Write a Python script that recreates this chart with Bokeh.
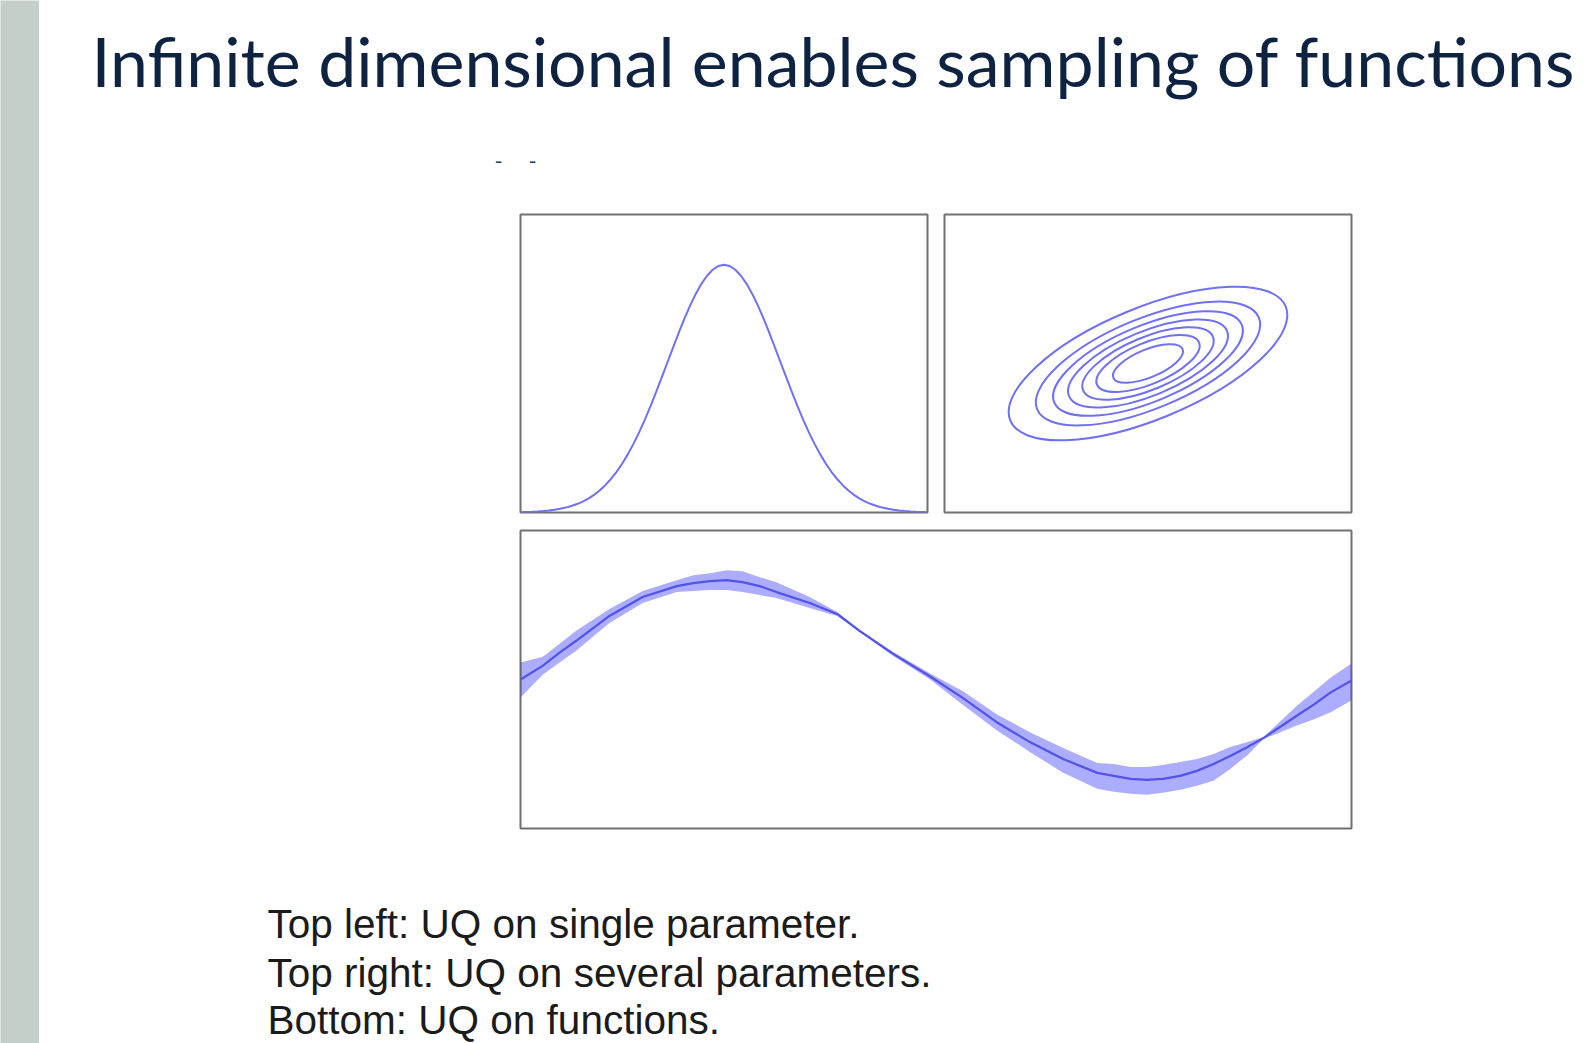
from bokeh.plotting import figure
from bokeh.layouts import row, column
from bokeh.models import Spacer, Label, Range1d
from bokeh.embed import file_html
from bokeh.resources import INLINE

# ---------------- data ----------------
title_text = "Infinite dimensional enables sampling of functions"
caption_lines = [
    "Top left: UQ on single parameter.",
    "Top right: UQ on several parameters.",
    "Bottom: UQ on functions.",
]

# top left: single-parameter density
pdf_x = [-3.6, -3.5, -3.4, -3.3, -3.2, -3.1, -3.0, -2.9, -2.8, -2.7, -2.6, -2.5,
         -2.4, -2.3, -2.2, -2.1, -2.0, -1.9, -1.8, -1.7, -1.6, -1.5, -1.4, -1.3,
         -1.2, -1.1, -1.0, -0.9, -0.8, -0.7, -0.6, -0.5, -0.4, -0.3, -0.2, -0.1,
         0.0, 0.1, 0.2, 0.3, 0.4, 0.5, 0.6, 0.7, 0.8, 0.9, 1.0, 1.1, 1.2, 1.3,
         1.4, 1.5, 1.6, 1.7, 1.8, 1.9, 2.0, 2.1, 2.2, 2.3, 2.4, 2.5, 2.6, 2.7,
         2.8, 2.9, 3.0, 3.1, 3.2, 3.3, 3.4, 3.5, 3.6]
pdf_y = [0.0006, 0.0009, 0.0012, 0.0017, 0.0024, 0.0033, 0.0044, 0.0060, 0.0079,
         0.0104, 0.0136, 0.0175, 0.0224, 0.0283, 0.0355, 0.0440, 0.0540, 0.0656,
         0.0790, 0.0940, 0.1109, 0.1295, 0.1497, 0.1714, 0.1942, 0.2179, 0.2420,
         0.2661, 0.2897, 0.3123, 0.3332, 0.3521, 0.3683, 0.3814, 0.3910, 0.3970,
         0.3989, 0.3970, 0.3910, 0.3814, 0.3683, 0.3521, 0.3332, 0.3123, 0.2897,
         0.2661, 0.2420, 0.2179, 0.1942, 0.1714, 0.1497, 0.1295, 0.1109, 0.0940,
         0.0790, 0.0656, 0.0540, 0.0440, 0.0355, 0.0283, 0.0224, 0.0175, 0.0136,
         0.0104, 0.0079, 0.0060, 0.0044, 0.0033, 0.0024, 0.0017, 0.0012, 0.0009,
         0.0006]

# top right: contour ellipses of a correlated two-parameter density
ell_cx = [0.0] * 7
ell_cy = [0.0] * 7
ell_w = [5.96, 4.80, 4.06, 3.42, 2.81, 2.21, 1.50]
ell_h = [2.23, 1.80, 1.52, 1.28, 1.05, 0.83, 0.56]
ell_angle = [0.3927] * 7

# bottom: function posterior mean and band
fn_x = [0.00, 0.27, 0.47, 0.67, 1.07, 1.47, 1.88, 2.08, 2.28, 2.48, 2.67, 2.88,
        3.08, 3.48, 3.81, 4.08, 4.48, 4.93, 5.33, 5.73, 6.13, 6.53, 6.94, 7.14,
        7.34, 7.54, 7.73, 7.94, 8.14, 8.34, 8.54, 8.75, 8.94, 9.35, 9.55, 9.75, 10.0]
fn_mean = [0.00, 0.14, 0.27, 0.39, 0.64, 0.83, 0.94, 0.97, 0.99, 1.00, 0.98, 0.94,
           0.88, 0.77, 0.66, 0.49, 0.26, 0.03, -0.19, -0.43, -0.63, -0.80, -0.94,
           -0.97, -1.00, -1.01, -1.00, -0.97, -0.92, -0.85, -0.77, -0.68, -0.59,
           -0.36, -0.25, -0.13, -0.01]
fn_lo = [-0.18, 0.05, 0.17, 0.29, 0.57, 0.77, 0.88, 0.89, 0.90, 0.90, 0.88, 0.85,
         0.82, 0.72, 0.64, 0.48, 0.24, 0.00, -0.26, -0.51, -0.73, -0.94, -1.10,
         -1.13, -1.15, -1.16, -1.14, -1.11, -1.07, -1.02, -0.90, -0.76, -0.60,
         -0.46, -0.40, -0.33, -0.21]
fn_hi = [0.17, 0.23, 0.36, 0.49, 0.71, 0.89, 1.00, 1.05, 1.07, 1.10, 1.09, 1.03,
         0.98, 0.83, 0.68, 0.50, 0.28, 0.06, -0.12, -0.35, -0.53, -0.69, -0.84,
         -0.85, -0.88, -0.88, -0.86, -0.83, -0.80, -0.75, -0.68, -0.63, -0.58,
         -0.26, -0.12, 0.02, 0.16]

# ---------------- styles ----------------
GRAY_BAR = "#c4cfca"
TITLE_COLOR = "#0e2341"
FRAME = "#707070"
CURVE = "#7070f5"
BAND = "#0000ff"


def blank(w, h, xr=(0, 1), yr=(0, 1), mb=0, bg="white"):
    p = figure(width=w, height=h, x_range=Range1d(*xr), y_range=Range1d(*yr),
               output_backend="svg", toolbar_location=None,
               x_axis_location=None, y_axis_location=None, min_border=mb)
    p.grid.visible = False
    p.outline_line_color = None
    p.background_fill_color = bg
    p.border_fill_color = bg
    return p


def panel(w, h, xr, yr):
    p = blank(w, h, xr, yr, mb=3)
    p.outline_line_color = FRAME
    p.outline_line_width = 2
    return p


# gray side bar
bar = blank(39, 1043, bg=GRAY_BAR)

# title area
title_fig = blank(1545, 211)
title_fig.add_layout(Label(x=52, y=151, x_units="screen", y_units="screen",
                           text=title_text, text_font="Lato", text_font_size="68px",
                           text_color=TITLE_COLOR, text_baseline="alphabetic"))
for dx in (455, 489):
    title_fig.add_layout(Label(x=dx, y=50, x_units="screen", y_units="screen",
                               text="-", text_font="Lato", text_font_size="22px",
                               text_color="#2a3f70", text_baseline="alphabetic"))

# top-left panel
tl = panel(413, 304, (-3.6, 3.6), (0, 0.48))
tl.line(pdf_x, pdf_y, line_color=CURVE, line_width=2)

# top-right panel
tr = panel(413, 304, (-4.07, 4.07), (-2.98, 2.98))
tr.ellipse(x=ell_cx, y=ell_cy, width=ell_w, height=ell_h, angle=ell_angle,
           fill_color=None, line_color=CURVE, line_width=2)

# bottom panel
bot = panel(837, 304, (0, 10), (-1.5, 1.5))
bot.varea(x=fn_x, y1=fn_lo, y2=fn_hi, fill_color=BAND, fill_alpha=0.32)
bot.line(fn_x, fn_mean, line_color="#5252ec", line_width=2.2)

# caption
cap = blank(1545, 212)
for txt, yb in zip(caption_lines, [120, 71, 24]):
    cap.add_layout(Label(x=228, y=yb, x_units="screen", y_units="screen", text=txt,
                         text_font="Liberation Sans", text_font_size="40.5px",
                         text_color="#1b1b1b", text_baseline="alphabetic"))

main = column(
    title_fig,
    row(Spacer(width=478, height=304), tl, Spacer(width=11, height=304), tr),
    Spacer(width=1545, height=12),
    row(Spacer(width=478, height=304), bot),
    cap,
)
layout = row(bar, main)

open("out.html", "w").write(file_html(layout, INLINE))
